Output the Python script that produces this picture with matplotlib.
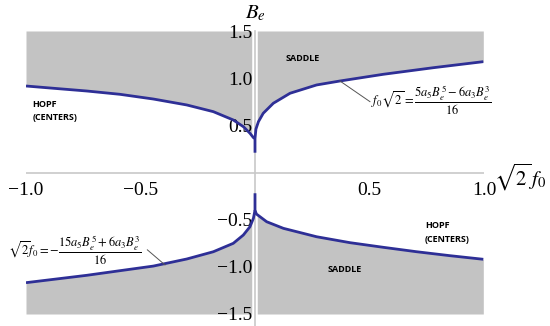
import numpy as np
import matplotlib.pyplot as plt

plt.rcParams['mathtext.fontset'] = 'stix'

# upper branch, f0 < 0 (runs into the cusp at f0 = 0)
ul_x = [-1.0, -0.881, -0.735, -0.59, -0.444, -0.298, -0.182, -0.095, -0.051, -0.022, -0.007, 0.0]
ul_y = [0.917, 0.893, 0.864, 0.829, 0.779, 0.716, 0.645, 0.557, 0.486, 0.416, 0.37, 0.36]
# upper branch, f0 > 0 (starts with the cusp stub)
ur_x = [0.0, 0.0, 0.004, 0.015, 0.036, 0.08, 0.153, 0.269, 0.371, 0.56, 0.779, 0.997]
ur_y = [0.21, 0.36, 0.46, 0.539, 0.628, 0.734, 0.84, 0.928, 0.97, 1.041, 1.111, 1.175]
# lower branch, f0 < 0
ll_x = [-1.0, -0.881, -0.735, -0.59, -0.444, -0.298, -0.182, -0.095, -0.051, -0.022, -0.007, 0.0]
ll_y = [-1.168, -1.133, -1.09, -1.041, -0.992, -0.917, -0.84, -0.751, -0.663, -0.575, -0.486, -0.40]
# lower branch, f0 > 0
lr_x = [0.0, 0.0, 0.006, 0.022, 0.051, 0.124, 0.269, 0.415, 0.56, 0.706, 0.852, 0.997]
lr_y = [-0.22, -0.40, -0.44, -0.469, -0.522, -0.592, -0.681, -0.744, -0.793, -0.84, -0.882, -0.92]

xticks = [-1.0, -0.5, 0.5, 1.0]
yticks = [-1.5, -1.0, -0.5, 0.5, 1.0, 1.5]

grey = '#c3c3c3'
blue = '#2e2f96'
axcol = '#c8c8c8'

fig = plt.figure(figsize=(5.5, 3.26), dpi=100)
ax = fig.add_axes([26/550, 12/326, 458/550, 283/326])
ax.set_xlim(-1, 1)
ax.set_ylim(-1.5, 1.5)

ax.fill_between(ul_x, ul_y, 1.5, color=grey, lw=0)
ax.fill_between(ur_x, ur_y, 1.5, color=grey, lw=0)
ax.fill_between(ll_x, ll_y, -1.5, color=grey, lw=0)
ax.fill_between(lr_x, lr_y, -1.5, color=grey, lw=0)

# axes lines (white gap around the vertical one)
ax.plot([0, 0], [1.5, -1.65], color='white', lw=4, clip_on=False, zorder=3)
ax.plot([0, 0], [1.5, -1.65], color=axcol, lw=1.2, clip_on=False, zorder=3)
ax.plot([-1, 1], [0, 0], color=axcol, lw=1.2, zorder=3)

for xs, ys in [(ul_x, ul_y), (ur_x, ur_y), (ll_x, ll_y), (lr_x, lr_y)]:
    ax.plot(xs, ys, color=blue, lw=2, zorder=4, solid_capstyle='butt',
            solid_joinstyle='round')

for s in ax.spines.values():
    s.set_visible(False)
ax.spines['left'].set_position('zero')
ax.spines['bottom'].set_position('zero')
ax.set_xticks(xticks)
ax.set_yticks(yticks)
ax.set_xticklabels([('\u2212' if v < 0 else '') + '%.1f' % abs(v) for v in xticks],
                   fontfamily='Liberation Serif')
ax.set_yticklabels([('\u2212' if v < 0 else '') + '%.1f' % abs(v) for v in yticks],
                   fontfamily='Liberation Serif')
ax.tick_params(length=0, labelsize=14)
ax.tick_params(axis='x', pad=7)
ax.tick_params(axis='y', pad=2)

ax.text(0.004, 1.69, r'$B_e$', fontsize=15, ha='center', va='center', clip_on=False)
ax.text(1.157, -0.05, r'$\sqrt{2}\,f_0$', fontsize=15, ha='center', va='center', clip_on=False)

lab_kw = dict(fontsize=6.5, fontweight='bold', fontfamily='Open Sans', va='center', ha='left')
ax.text(-0.972, 0.65, 'HOPF\n(CENTERS)', linespacing=1.6, **lab_kw)
ax.text(0.135, 1.21, 'SADDLE', **lab_kw)
ax.text(0.742, -0.635, 'HOPF\n(CENTERS)', linespacing=1.6, **lab_kw)
ax.text(0.315, -1.03, 'SADDLE', **lab_kw)

ax.plot([0.371, 0.502], [0.97, 0.751], color='#555555', lw=0.7, zorder=4)
ax.text(0.505, 0.77, r'$f_0\sqrt{2}=\dfrac{5a_5B_e^5-6a_3B_e^3}{16}$', fontsize=9,
        ha='left', va='center')
ax.plot([-0.393, -0.47], [-0.98, -0.82], color='#555555', lw=0.7, zorder=4)
ax.text(-1.077, -0.82, r'$\sqrt{2}f_0=-\dfrac{15a_5B_e^5+6a_3B_e^3}{16}$', fontsize=9,
        ha='left', va='center', clip_on=False)

fig.savefig('out.png', dpi=100)
